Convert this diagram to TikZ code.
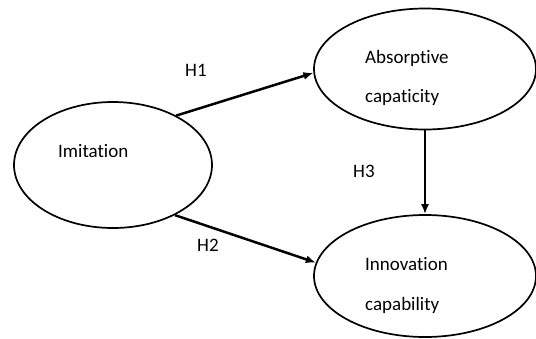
\documentclass[tikz,border=0pt]{standalone}
\usepackage{fontspec}
\setmainfont[Ligatures=NoCommon]{Carlito}
\usetikzlibrary{shapes,arrows.meta}
\newcommand{\construct}[5]{\node[draw,ellipse,line width=1.7pt,inner sep=0pt,minimum width=#4pt,minimum height=#5pt] (#1) at (#2,#3) {};}
\newcommand{\term}[4]{\node[anchor=base west,inner sep=0pt] (#1) at (#2,#3) {#4};}
\newcommand{\hyp}[2]{\draw[line width=2.5pt,->,>={Latex[length=10pt,width=8pt]}] (#1) -- (#2);}

\begin{document}
\begin{tikzpicture}[x=1pt,y=-1pt,font=\fontsize{19}{22}\selectfont]
    \useasboundingbox (0,0) rectangle (536,338);
    \construct{imit}{113}{165}{198}{126} \term{imitText}{58}{157}{Imitation}
    \construct{abs}{425}{69}{222}{121}
    \term{absText}{365}{63}{Absorptive} \term{absText2}{365}{102}{capaticity}
    \construct{inn}{425}{276}{222}{122}
    \term{innText}{365}{270}{Innovation} \term{innText2}{365}{310}{capability}
    \hyp{imit.38}{abs.182} \hyp{imit.-39}{inn.173} \hyp{abs.south}{inn.north}
    \term{h1}{185}{76.5}{H1} \term{h2}{197}{251.5}{H2} \term{h3}{353}{177}{H3}
\end{tikzpicture}
\end{document}
